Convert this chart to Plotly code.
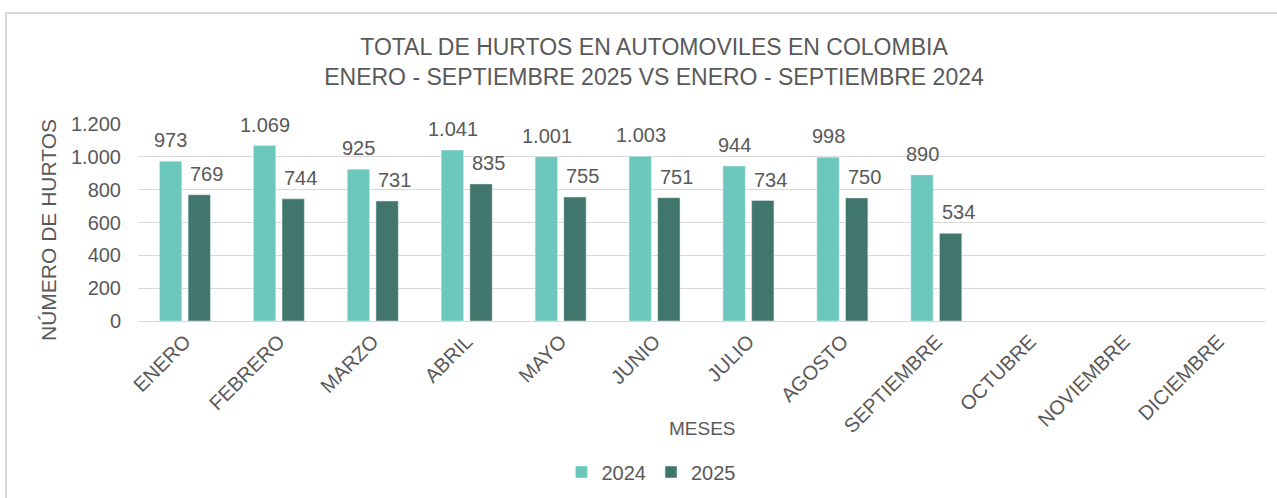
import plotly.graph_objects as go

meses = ["ENERO", "FEBRERO", "MARZO", "ABRIL", "MAYO", "JUNIO", "JULIO",
         "AGOSTO", "SEPTIEMBRE", "OCTUBRE", "NOVIEMBRE", "DICIEMBRE"]
hurtos_2024 = [973, 1069, 925, 1041, 1001, 1003, 944, 998, 890, None, None, None]
hurtos_2025 = [769, 744, 731, 835, 755, 751, 734, 750, 534, None, None, None]
y_ticks = [0, 200, 400, 600, 800, 1000, 1200]

C2024 = "#6CC8BC"
C2025 = "#41766C"
TXT = "#595959"
FONT = "Liberation Sans, Arial, sans-serif"

W, H = 1277, 498
L, R, T, B = 138, 12, 124, 177
pw, ph = W - L - R, H - T - B

def px2x(px):
    return (px - L) / pw

def py2y(py):
    return (H - B - py) / ph

def fmt(v):
    return f"{v:,}".replace(",", ".")

fig = go.Figure()
fig.add_trace(go.Bar(x=meses, y=hurtos_2024, name="2024", marker_color=C2024))
fig.add_trace(go.Bar(x=meses, y=hurtos_2025, name="2025", marker_color=C2025))

annotations = []
for m, v in zip(meses, hurtos_2024):
    if v is not None:
        annotations.append(dict(x=m, y=v, xref="x", yref="y", text=fmt(v), showarrow=False,
                                xanchor="center", yanchor="bottom", xshift=-14, yshift=8,
                                font=dict(size=20, color=TXT, family=FONT)))
for m, v in zip(meses, hurtos_2025):
    if v is not None:
        annotations.append(dict(x=m, y=v, xref="x", yref="y", text=fmt(v), showarrow=False,
                                xanchor="center", yanchor="bottom", xshift=22, yshift=8,
                                font=dict(size=20, color=TXT, family=FONT)))

annotations.append(dict(text="MESES", x=px2x(702), y=py2y(428), xref="paper", yref="paper",
                        xanchor="center", yanchor="middle",
                        showarrow=False, font=dict(size=19, color=TXT, family=FONT)))
annotations.append(dict(text="NÚMERO DE HURTOS", x=px2x(48), y=py2y(230), xref="paper", yref="paper",
                        xanchor="center", yanchor="middle",
                        showarrow=False, textangle=-90, font=dict(size=21, color=TXT, family=FONT)))

fig.update_layout(
    width=W, height=H,
    margin=dict(l=L, r=R, t=T, b=B, autoexpand=False),
    paper_bgcolor="white", plot_bgcolor="white",
    separators=",.",
    barmode="group", bargap=0.39, bargroupgap=0.22,
    title=dict(text="TOTAL DE HURTOS EN AUTOMOVILES EN COLOMBIA<br>ENERO - SEPTIEMBRE 2025 VS ENERO - SEPTIEMBRE 2024",
               x=654 / W, xanchor="center", xref="container",
               y=1 - 55 / H, yanchor="middle", yref="container",
               font=dict(size=23, color=TXT, family=FONT)),
    font=dict(family=FONT, color=TXT),
    legend=dict(orientation="h", x=px2x(651), xanchor="center", y=py2y(472), yanchor="middle",
                font=dict(size=20, color=TXT, family=FONT), itemwidth=30, traceorder="normal"),
    annotations=annotations,
    shapes=[dict(type="rect", xref="paper", yref="paper",
                 x0=px2x(6), x1=px2x(W + 20), y0=py2y(13), y1=py2y(H + 20),
                 line=dict(color="#D9D9D9", width=2), fillcolor="rgba(0,0,0,0)", layer="below")],
)

fig.update_xaxes(tickangle=-45, tickfont=dict(size=20, color=TXT, family=FONT), automargin=False,
                 showline=True, linecolor="#D9D9D9", linewidth=1, ticks="", showgrid=False)
fig.update_yaxes(range=[0, 1200], tickvals=y_ticks, separatethousands=True, tickformat=",d",
                 tickfont=dict(size=20, color=TXT, family=FONT), automargin=False,
                 showgrid=True, gridcolor="#D9D9D9", gridwidth=1, zeroline=True,
                 zerolinecolor="#D9D9D9", zerolinewidth=1, showline=False, ticks="",
                 ticklabelstandoff=16)

fig.write_html("out.html", config={"displayModeBar": False},
               post_script="document.body.style.margin='0';")
